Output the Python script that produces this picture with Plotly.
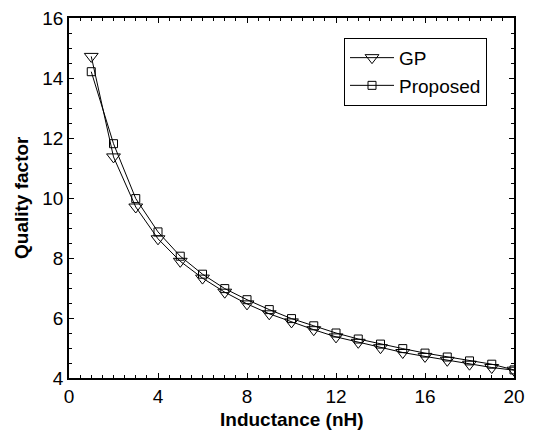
import plotly.graph_objects as go

inductance = list(range(1, 21))
gp = [14.72, 11.37, 9.70, 8.64, 7.89, 7.33, 6.86, 6.47, 6.14, 5.87,
      5.61, 5.37, 5.19, 5.01, 4.85, 4.72, 4.59, 4.46, 4.35, 4.26]
proposed = [14.21, 11.81, 9.98, 8.87, 8.06, 7.46, 6.98, 6.61, 6.28, 5.98,
            5.74, 5.50, 5.30, 5.13, 4.98, 4.83, 4.70, 4.57, 4.46, 4.27]

font = "Liberation Sans, Arial, Helvetica, sans-serif"

fig = go.Figure()
fig.add_trace(go.Scatter(
    x=inductance, y=gp, name="GP", mode="lines+markers",
    line=dict(color="black", width=1),
    marker=dict(symbol="triangle-down-open", size=12, color="black",
                line=dict(width=1, color="black")),
))
fig.add_trace(go.Scatter(
    x=inductance, y=proposed, name="Proposed", mode="lines+markers",
    line=dict(color="black", width=1),
    marker=dict(symbol="square-open", size=8, color="black",
                line=dict(width=1, color="black")),
))

axis_common = dict(
    showgrid=False, zeroline=False, showline=True, linecolor="black",
    linewidth=1.5, mirror="ticks", ticks="inside", ticklen=5,
    tickcolor="black", tickwidth=1, automargin=False,
    tickfont=dict(family=font, size=19, color="black"),
)

fig.update_xaxes(
    range=[0, 20], tickvals=[0, 4, 8, 12, 16, 20],
    minor=dict(dtick=0.5, ticks="inside", ticklen=3, tickcolor="black", showgrid=False),
    **axis_common,
)
fig.update_yaxes(
    range=[4, 16], tickvals=[4, 6, 8, 10, 12, 14, 16],
    minor=dict(dtick=0.5, ticks="inside", ticklen=3, tickcolor="black", showgrid=False),
    **axis_common,
)

title_font = dict(family=font, size=19, color="black")
fig.add_annotation(text="<b>Inductance (nH)</b>", xref="paper", yref="paper",
                   x=0.5, y=0, xanchor="center", yanchor="middle", yshift=-41,
                   showarrow=False, font=title_font)
fig.add_annotation(text="<b>Quality factor</b>", xref="paper", yref="paper",
                   x=0, y=0.5, xanchor="center", yanchor="middle", xshift=-48,
                   textangle=-90, showarrow=False, font=title_font)

fig.update_layout(
    width=533, height=431,
    margin=dict(l=69, r=19, t=18, b=53),
    paper_bgcolor="white", plot_bgcolor="white",
    font=dict(family=font, color="black"),
    legend=dict(
        x=0.618, y=0.945, xanchor="left", yanchor="top",
        bordercolor="black", borderwidth=1, bgcolor="white",
        font=dict(family=font, size=19, color="black"),
        tracegroupgap=0, itemwidth=44,
    ),
)

fig.write_html("out.html")
